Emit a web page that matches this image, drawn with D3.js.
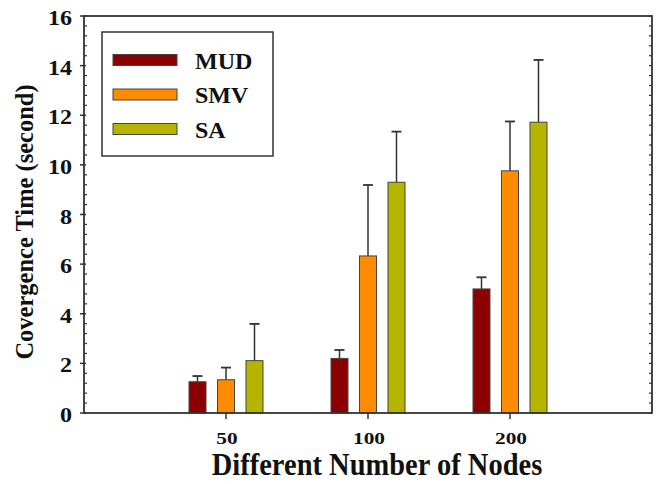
<!DOCTYPE html>
<html>
<head>
<meta charset="utf-8">
<script src="https://cdn.jsdelivr.net/npm/d3@7"></script>
<style>
  html, body { margin: 0; padding: 0; background: #fff; }
  svg { display: block; }
  text { font-family: "Liberation Serif", "Times New Roman", serif; font-weight: bold; fill: #111; }
</style>
</head>
<body>
<svg id="chart" width="656" height="484"></svg>
<script>
// Convergence time per node count, with error bars
const categories = ["50", "100", "200"];
const seriesNames = ["MUD", "SMV", "SA"];
const seriesColors = ["#8b0000", "#ff8c00", "#b5b500"];
const mudValues = [1.26, 2.2, 5.0];
const smvValues = [1.34, 6.33, 9.76];
const saValues = [2.11, 9.3, 11.72];
const mudErrors = [0.23, 0.34, 0.47];
const smvErrors = [0.49, 2.86, 1.99];
const saErrors = [1.48, 2.04, 2.51];
const yTicks = [0, 2, 4, 6, 8, 10, 12, 14, 16];

const values = [mudValues, smvValues, saValues];
const errors = [mudErrors, smvErrors, saErrors];

const svg = d3.select("#chart");
const margin = { left: 84, top: 16, right: 4, bottom: 71 };
const W = 656, H = 484;
const x0 = margin.left, x1 = W - margin.right;
const y0 = H - margin.bottom, y1 = margin.top;

// Categories sit at positions 1..3 on a 0..4 axis
const x = d3.scaleLinear().domain([0, categories.length + 1]).range([x0, x1]);
const y = d3.scaleLinear().domain([0, 16]).range([y0, y1]);
const barW = 17, groupStep = 28.5;

const axisColor = "#333";

// Minor ticks every 0.4
const minor = d3.range(0, 16.0001, 0.4).filter(v => Math.abs(v / 2 - Math.round(v / 2)) > 1e-6);

// Left axis: major ticks outside, minor ticks inside
const gl = svg.append("g");
gl.selectAll("line.minor").data(minor).join("line")
  .attr("x1", x0).attr("x2", x0 + 3)
  .attr("y1", d => y(d)).attr("y2", d => y(d))
  .attr("stroke", axisColor).attr("stroke-width", 1.2);
gl.selectAll("line.major").data(yTicks).join("line")
  .attr("x1", x0 - 4).attr("x2", x0 + 2)
  .attr("y1", d => y(d)).attr("y2", d => y(d))
  .attr("stroke", axisColor).attr("stroke-width", 1.5);
gl.selectAll("text").data(yTicks).join("text")
  .attr("transform", d => `translate(${x0 - 12},${y(d) + 9}) scale(1.12,1)`)
  .attr("text-anchor", "end").attr("font-size", 21.5)
  .text(d => d);

// Right axis: ticks pointing inward
svg.append("g").selectAll("line").data(minor.concat(yTicks)).join("line")
  .attr("x1", x1 - 3).attr("x2", x1)
  .attr("y1", d => y(d)).attr("y2", d => y(d))
  .attr("stroke", axisColor).attr("stroke-width", 1.2);

// Bars and error bars
const bars = svg.append("g");
seriesNames.forEach((name, s) => {
  const off = (s - 1) * groupStep;
  const g = bars.append("g");
  g.selectAll("line.err").data(categories).join("line")
    .attr("x1", (d, i) => x(i + 1) + off).attr("x2", (d, i) => x(i + 1) + off)
    .attr("y1", (d, i) => y(values[s][i])).attr("y2", (d, i) => y(values[s][i] + errors[s][i]))
    .attr("stroke", axisColor).attr("stroke-width", 1.5);
  g.selectAll("line.cap").data(categories).join("line")
    .attr("x1", (d, i) => x(i + 1) + off - 5).attr("x2", (d, i) => x(i + 1) + off + 5)
    .attr("y1", (d, i) => y(values[s][i] + errors[s][i])).attr("y2", (d, i) => y(values[s][i] + errors[s][i]))
    .attr("stroke", axisColor).attr("stroke-width", 1.8);
  g.selectAll("rect").data(categories).join("rect")
    .attr("x", (d, i) => x(i + 1) + off - barW / 2)
    .attr("width", barW)
    .attr("y", (d, i) => y(values[s][i]))
    .attr("height", (d, i) => y(0) - y(values[s][i]))
    .attr("fill", seriesColors[s])
    .attr("stroke", "#444").attr("stroke-width", 1);
});

// Frame
svg.append("rect")
  .attr("x", x0).attr("y", y1).attr("width", x1 - x0).attr("height", y0 - y1)
  .attr("fill", "none").attr("stroke", axisColor).attr("stroke-width", 1.8);

// Bottom axis ticks and labels (slightly wide lettering)
const gb = svg.append("g");
gb.selectAll("line").data(categories).join("line")
  .attr("x1", (d, i) => x(i + 1)).attr("x2", (d, i) => x(i + 1))
  .attr("y1", y0).attr("y2", y0 + 6)
  .attr("stroke", axisColor).attr("stroke-width", 1.5);
gb.selectAll("text").data(categories).join("text")
  .attr("transform", (d, i) => `translate(${x(i + 1) + 1},${y0 + 31}) scale(1.22,1)`)
  .attr("text-anchor", "middle").attr("font-size", 17.5)
  .text(d => d);

// Axis titles
svg.append("text")
  .attr("transform", "translate(377,475) scale(1,1.12)")
  .attr("text-anchor", "middle").attr("font-size", 28.5)
  .text("Different Number of Nodes");
svg.append("text")
  .attr("transform", "translate(33,222) rotate(-90) scale(1,1.06)")
  .attr("text-anchor", "middle").attr("font-size", 24.5)
  .text("Covergence Time (second)");

// Legend
const lg = svg.append("g");
lg.append("rect")
  .attr("x", 102).attr("y", 32).attr("width", 171).attr("height", 124)
  .attr("fill", "#fff").attr("stroke", axisColor).attr("stroke-width", 1.5);
seriesNames.forEach((name, s) => {
  const cy = 60 + s * 34.5;
  lg.append("rect")
    .attr("x", 113).attr("y", cy - 5.5).attr("width", 64).attr("height", 11)
    .attr("fill", seriesColors[s]).attr("stroke", "#444").attr("stroke-width", 1);
  lg.append("text")
    .attr("x", 195).attr("y", cy + 8.5)
    .attr("font-size", 24)
    .text(name);
});
</script>
</body>
</html>
